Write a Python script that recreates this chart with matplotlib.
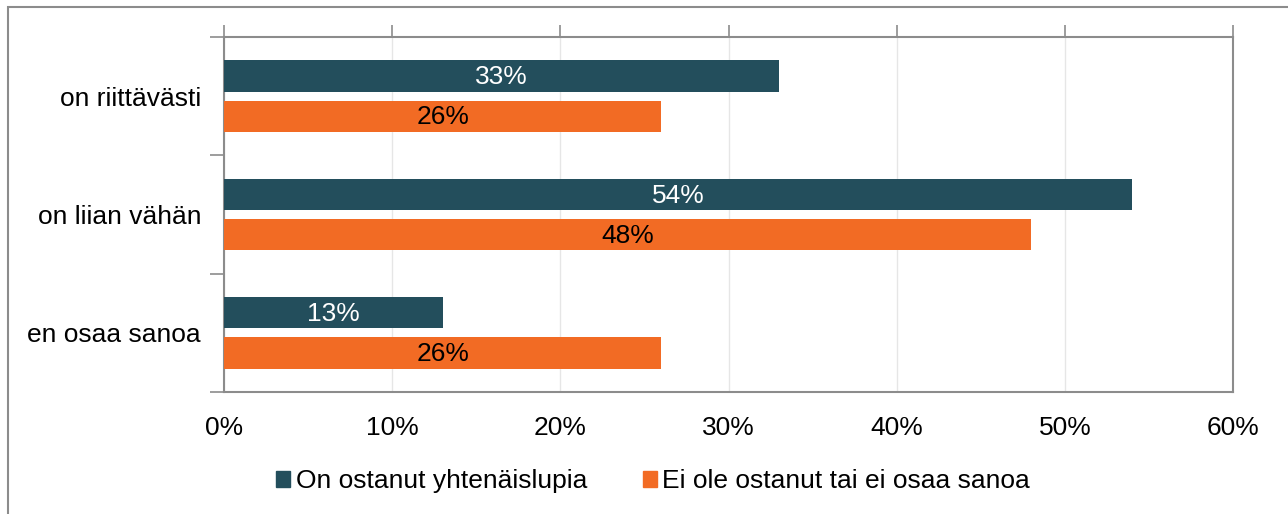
import matplotlib
matplotlib.use("Agg")
import matplotlib.pyplot as plt
from matplotlib.patches import Rectangle, Patch
import numpy as np

plt.rcParams['font.family'] = ['Liberation Sans', 'DejaVu Sans']

categories = ["on riittävästi", "on liian vähän", "en osaa sanoa"]
series_names = ["On ostanut yhtenäislupia", "Ei ole ostanut tai ei osaa sanoa"]
bought = [33, 54, 13]
not_bought = [26, 48, 26]
x_ticks = [0, 10, 20, 30, 40, 50, 60]
x_tick_labels = [f"{t}%" for t in x_ticks]

dark = "#234E5C"
orange = "#F26B24"
spine_col = "#8C8C8C"
fs = 19

W, H = 1288, 514
fig = plt.figure(figsize=(W / 100, H / 100), dpi=100)

# outer frame of the chart area
fig.patches.append(Rectangle((8 / W, -0.1), 1.2, (H - 7) / H + 0.1,
                             transform=fig.transFigure, fill=False,
                             edgecolor=spine_col, linewidth=1.5))

left, right, top, bottom = 224, 1233, 37, 392
ax = fig.add_axes([left / W, 1 - bottom / H, (right - left) / W, (bottom - top) / H])

y = np.arange(len(categories))
bh = 0.265
off = 0.17
ax.barh(y - off, bought, height=bh, color=dark, label=series_names[0], zorder=3)
ax.barh(y + off, not_bought, height=bh, color=orange, label=series_names[1], zorder=3)

for v, yy in zip(bought, y - off):
    ax.text(v / 2, yy + 0.01, f"{v}%", ha="center", va="center", color="white", fontsize=fs, zorder=4)
for v, yy in zip(not_bought, y + off):
    ax.text(v / 2, yy + 0.01, f"{v}%", ha="center", va="center", color="black", fontsize=fs, zorder=4)

ax.set_xlim(0, 60)
ax.set_ylim(len(categories) - 0.5, -0.5)

# x axis: grid, ticks on top without labels, labels at bottom
ax.set_xticks(x_ticks)
ax.xaxis.grid(True, color="#E6E6E6", linewidth=1, zorder=0)
ax.tick_params(axis="x", which="both", top=True, bottom=False, labeltop=False, labelbottom=True,
               direction="out", length=9, color=spine_col, width=1.2, labelsize=fs, pad=8)
ax.set_xticklabels(x_tick_labels)

# y axis: category labels centered, ticks at category boundaries
ax.set_yticks(y)
ax.set_yticklabels(categories, fontsize=fs)
ax.tick_params(axis="y", which="major", length=0, pad=16.5)
ax.set_yticks(np.arange(len(categories) + 1) - 0.5, minor=True)
ax.tick_params(axis="y", which="minor", length=10, color=spine_col, width=1.2, direction="out")

for s in ax.spines.values():
    s.set_color(spine_col)
    s.set_linewidth(1.5)

handles = [Patch(color=dark), Patch(color=orange)]
fig.legend(handles, series_names, loc="center", bbox_to_anchor=(0.507, 1 - 481 / H),
           ncol=2, frameon=False, fontsize=fs, handlelength=0.55, handleheight=0.55,
           handletextpad=0.2, columnspacing=2.1)

fig.savefig("out.png", dpi=100, facecolor="white")
